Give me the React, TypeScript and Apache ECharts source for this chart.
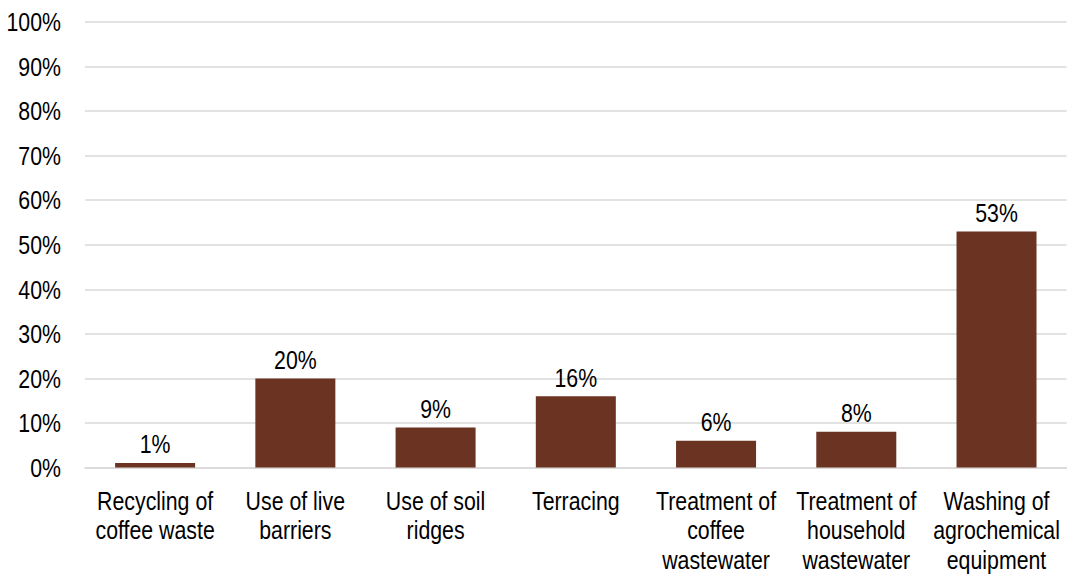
import React, { useEffect, useRef } from "react";
import * as echarts from "echarts";

const categories = [
  "Recycling of\ncoffee waste",
  "Use of live\nbarriers",
  "Use of soil\nridges",
  "Terracing",
  "Treatment of\ncoffee\nwastewater",
  "Treatment of\nhousehold\nwastewater",
  "Washing of\nagrochemical\nequipment",
];
const values = [1, 20, 9, 16, 6, 8, 53];
const FONT = "'Liberation Sans', Arial, sans-serif";
const SX = 0.82; // horizontal squeeze to mimic a narrow font
const W = 1068 / SX;

export default function App() {
  const ref = useRef<HTMLDivElement>(null);
  useEffect(() => {
    const chart = echarts.init(ref.current!, null, { renderer: "svg" });
    chart.setOption({
      animation: false,
      grid: {
        left: 85 / SX,
        right: 1 / SX,
        top: 22,
        bottom: 107.5,
        containLabel: false,
        outerBoundsMode: "none",
      },
      xAxis: {
        type: "category",
        data: categories,
        axisLine: { show: true, lineStyle: { color: "#d9d9d9", width: 1.5 } },
        axisTick: { show: false },
        axisLabel: {
          color: "#000",
          fontFamily: FONT,
          fontSize: 26,
          lineHeight: 29.5,
          margin: 18,
          interval: 0,
          hideOverlap: false,
        },
      },
      yAxis: {
        type: "value",
        min: 0,
        max: 100,
        interval: 10,
        axisLine: { show: false },
        axisTick: { show: false },
        splitLine: { lineStyle: { color: "#d9d9d9", width: 1.5 } },
        axisLabel: {
          color: "#000",
          fontFamily: FONT,
          fontSize: 26,
          margin: 24 / SX,
          formatter: "{value}%",
        },
      },
      series: [
        {
          type: "bar",
          data: values,
          barWidth: 80 / SX,
          itemStyle: { color: "#6b3321" },
          label: {
            show: true,
            position: "top",
            distance: 6,
            color: "#000",
            fontFamily: FONT,
            fontSize: 26,
            formatter: "{c}%",
          },
        },
      ],
    });
    return () => chart.dispose();
  }, []);
  return (
    <div style={{ position: "absolute", left: 0, top: 0, width: 1068, height: 575, overflow: "hidden", background: "#fff" }}>
      <div
        ref={ref}
        style={{ width: W, height: 575, transform: `scaleX(${SX})`, transformOrigin: "0 0" }}
      />
    </div>
  );
}
